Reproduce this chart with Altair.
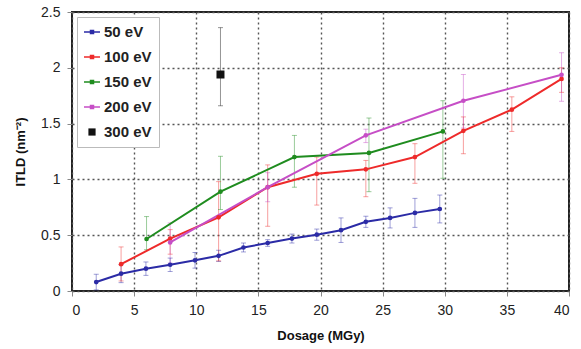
import altair as alt
import pandas as pd

series = ["50 eV", "100 eV", "150 eV", "200 eV", "300 eV"]
colors = ["#2b2ba6", "#ee2a2a", "#1f8c1f", "#c64ec6", "#111111"]

dose_50 = [1.95, 3.95, 5.95, 7.9, 9.9, 11.8, 13.8, 15.75, 17.7, 19.7, 21.65, 23.65, 25.6, 27.6, 29.6]
itld_50 = [0.08, 0.155, 0.2, 0.235, 0.275, 0.315, 0.39, 0.43, 0.47, 0.505, 0.545, 0.62, 0.655, 0.70, 0.735]
err_50 = [0.07, 0.08, 0.06, 0.06, 0.07, 0.05, 0.04, 0.03, 0.04, 0.05, 0.11, 0.05, 0.09, 0.13, 0.125]

dose_100 = [3.95, 7.9, 11.8, 15.75, 19.7, 23.65, 27.6, 31.5, 35.4, 39.4]
itld_100 = [0.24, 0.47, 0.66, 0.93, 1.05, 1.09, 1.20, 1.435, 1.625, 1.9]
lo_100 = [0.09, 0.33, 0.27, 0.58, 0.77, 0.845, 0.965, 1.23, 1.43, 1.78]
hi_100 = [0.395, 0.55, 0.98, 1.13, 1.2, 1.17, 1.32, 1.56, 1.74, 2.0]

dose_150 = [6.0, 11.95, 17.9, 23.9, 29.85]
itld_150 = [0.466, 0.89, 1.2, 1.237, 1.43]
lo_150 = [0.37, 0.73, 0.93, 0.89, 1.01]
hi_150 = [0.667, 1.207, 1.394, 1.55, 1.705]

dose_200 = [7.9, 15.75, 23.65, 31.5, 39.4]
itld_200 = [0.435, 0.93, 1.395, 1.705, 1.937]
lo_200 = [0.25, 0.80, 1.33, 1.46, 1.70]
hi_200 = [0.61, 1.06, 1.45, 1.94, 2.135]

dose_300 = [11.95]
itld_300 = [1.94]
lo_300 = [1.66]
hi_300 = [2.36]

rows = []
for d, v, e in zip(dose_50, itld_50, err_50):
    rows.append(dict(series="50 eV", dose=d, itld=v, lo=v - e, hi=v + e))
for name, ds, vs, los, his in [
    ("100 eV", dose_100, itld_100, lo_100, hi_100),
    ("150 eV", dose_150, itld_150, lo_150, hi_150),
    ("200 eV", dose_200, itld_200, lo_200, hi_200),
    ("300 eV", dose_300, itld_300, lo_300, hi_300),
]:
    for d, v, l, h in zip(ds, vs, los, his):
        rows.append(dict(series=name, dose=d, itld=v, lo=l, hi=h))
df = pd.DataFrame(rows)

line_sym = "M-1,-0.08L1,-0.08L1,0.08L-1,0.08Z M-0.28,-0.28L0.28,-0.28L0.28,0.28L-0.28,0.28Z"
square_sym = "M-0.45,-0.45L0.45,-0.45L0.45,0.45L-0.45,0.45Z"

color_scale = alt.Scale(domain=series, range=colors)
xs = alt.Scale(domain=[0, 40], nice=False)
ys = alt.Scale(domain=[0, 2.5], nice=False)

base = alt.Chart(df)

x_enc = alt.X("dose:Q", scale=xs, title="Dosage (MGy)",
              axis=alt.Axis(values=list(range(0, 41, 5))))
y_enc = alt.Y("itld:Q", scale=ys, title="ITLD (nm⁻²)",
              axis=alt.Axis(values=[0, 0.5, 1, 1.5, 2, 2.5], format=".2~f"))
col_nolegend = alt.Color("series:N", scale=color_scale, legend=None)

err = base.mark_rule(strokeWidth=1, opacity=0.45).encode(
    x=x_enc, y=alt.Y("lo:Q", scale=ys), y2="hi:Q", color=col_nolegend)
cap_lo = base.mark_tick(orient="horizontal", size=5, thickness=1, opacity=0.45).encode(
    x=x_enc, y=alt.Y("lo:Q", scale=ys), color=col_nolegend)
cap_hi = base.mark_tick(orient="horizontal", size=5, thickness=1, opacity=0.45).encode(
    x=x_enc, y=alt.Y("hi:Q", scale=ys), color=col_nolegend)

lines = base.transform_filter("datum.series != '300 eV'").mark_line(strokeWidth=2).encode(
    x=x_enc, y=y_enc, color=col_nolegend, order="dose:Q")
dots = base.transform_filter("datum.series != '300 eV'").mark_circle(size=22, opacity=1).encode(
    x=x_enc, y=y_enc, color=col_nolegend)
sq = base.transform_filter("datum.series == '300 eV'").mark_square(size=64, opacity=1).encode(
    x=x_enc, y=y_enc, color=col_nolegend)

leg = alt.Legend(title=None, orient="top-left", offset=5,
                 padding=7, rowPadding=9, symbolSize=256,
                 labelFontSize=15, labelFontWeight="bold",
                 labelFont="Liberation Sans", labelColor="#222",
                 strokeColor="#bbbbbb", fillColor="white",
                 symbolStrokeWidth=0)

legend_layer = base.transform_filter("datum.itld > 99").mark_point(filled=True, opacity=1).encode(
    x=x_enc, y=y_enc,
    color=alt.Color("series:N", scale=color_scale, legend=leg),
    shape=alt.Shape("series:N",
                    scale=alt.Scale(domain=series, range=[line_sym] * 4 + [square_sym]),
                    legend=leg),
)

chart = alt.layer(err, cap_lo, cap_hi, lines, dots, sq, legend_layer).resolve_legend(
    color="independent", shape="independent"
).properties(
    width=497, height=279,
    autosize=alt.AutoSizeParams(type="none"),
    padding={"left": 72, "top": 12, "right": 12, "bottom": 58},
).configure_view(
    stroke="#222", strokeWidth=2
).configure_axis(
    grid=True, gridColor="#555", gridDash=[2, 3], gridWidth=1.4,
    domain=False, tickColor="#888", tickSize=5,
    labelFont="Liberation Sans", labelFontSize=14, labelColor="#222", labelPadding=7,
    titleFont="Liberation Sans", titleFontSize=13, titleFontWeight="bold", titleColor="#111",
).configure_axisX(titlePadding=12).configure_axisY(titlePadding=13)

chart.save("out.html", embed_options={"renderer": "svg", "actions": False})
